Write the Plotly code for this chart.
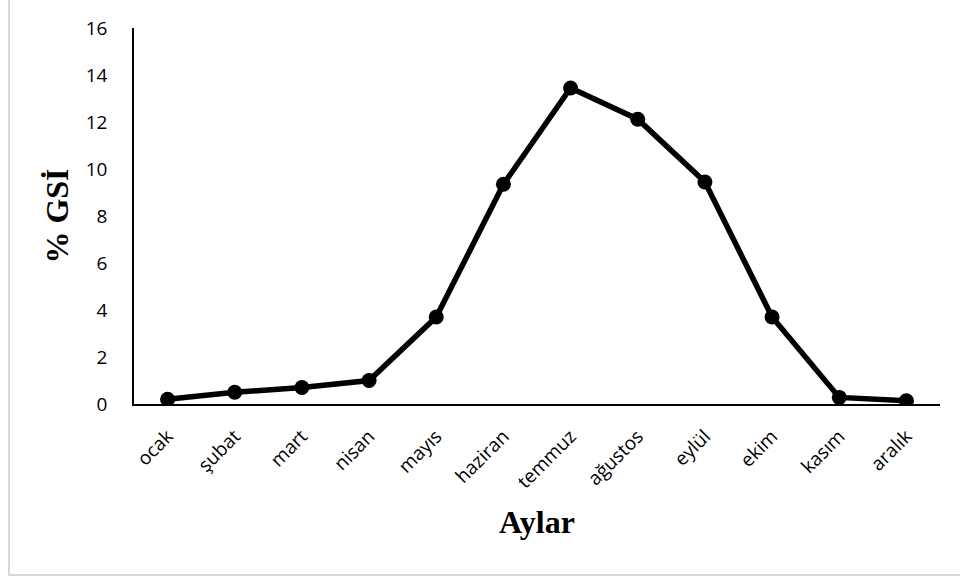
import plotly.graph_objects as go

months = ["ocak", "şubat", "mart", "nisan", "mayıs", "haziran",
          "temmuz", "ağustos", "eylül", "ekim", "kasım", "aralık"]
gsi = [0.2, 0.5, 0.7, 1.0, 3.7, 9.35, 13.45, 12.12, 9.45, 3.7, 0.28, 0.14]
y_ticks = [0, 2, 4, 6, 8, 10, 12, 14, 16]

L, R, T, B = 134, 20, 28, 175
W, H = 960, 579
pw, ph = W - L - R, H - T - B

def px(x):
    return (x - L) / pw

def py(y):
    return (H - B - y) / ph

fig = go.Figure()
fig.add_trace(go.Scatter(
    x=months, y=gsi, mode="lines+markers",
    line=dict(color="black", width=5.5),
    marker=dict(color="black", size=15),
    showlegend=False,
))

fig.update_layout(
    width=W, height=H,
    margin=dict(l=L, r=R, t=T, b=B),
    paper_bgcolor="white", plot_bgcolor="white",
    xaxis=dict(
        type="category", range=[-0.5, len(months) - 0.5],
        showline=True, linecolor="black", linewidth=1.5,
        showgrid=False, ticks="", tickangle=-45,
        ticklabelstandoff=12,
        tickfont=dict(family="Open Sans", size=19, color="black"),
        title=dict(text="<b>Aylar</b>", font=dict(family="Liberation Serif", size=32, color="black"), standoff=18),
    ),
    yaxis=dict(
        range=[0, 16], tickvals=y_ticks,
        showline=True, linecolor="black", linewidth=1.5,
        showgrid=False, zeroline=False, ticks="",
        ticklabelstandoff=21,
        tickfont=dict(family="Open Sans", size=19, color="black"),
        title=dict(text="<b>% GSİ</b>", font=dict(family="Liberation Serif", size=32, color="black"), standoff=8),
    ),
    shapes=[dict(type="rect", xref="paper", yref="paper",
                 x0=px(9), x1=px(980), y0=py(575), y1=py(-5),
                 line=dict(color="#d9d9d9", width=2), layer="below")],
)

fig.write_html("out.html", config={"displayModeBar": False},
               post_script="document.body.style.margin='0';document.body.style.overflow='hidden';")
